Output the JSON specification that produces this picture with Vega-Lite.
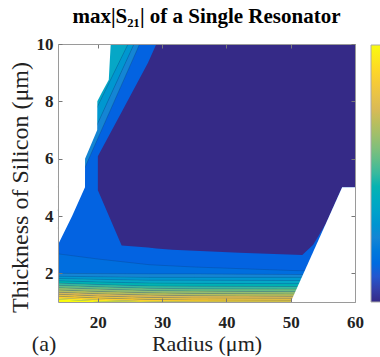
{
  "$schema": "https://vega.github.io/schema/vega-lite/v6.json",
  "width": 297,
  "height": 258,
  "autosize": "none",
  "padding": {"left": 58, "top": 44, "right": 25, "bottom": 55},
  "background": "white",
  "config": {"view": {"stroke": null}, "font": "Liberation Serif"},
  "title": {"text": "max|S₂₁| of a Single Resonator", "font": "Liberation Serif", "fontSize": 21, "fontWeight": "bold", "color": "black", "anchor": "middle", "frame": "group", "baseline": "alphabetic", "offset": 17, "dy": 26},
  "datasets": {
    "shapes": [
      {"part": "base", "level": 0.125, "r": 13.8, "lo": 1, "hi": 10},
      {"part": "base", "level": 0.125, "r": 60, "lo": 1, "hi": 10},

      {"part": "band", "level": 0.16, "r": 13.8, "lo": 2.00, "hi": 2.68},
      {"part": "band", "level": 0.16, "r": 20, "lo": 1.99, "hi": 2.50},
      {"part": "band", "level": 0.16, "r": 28, "lo": 1.98, "hi": 2.30},
      {"part": "band", "level": 0.16, "r": 35, "lo": 1.98, "hi": 2.22},
      {"part": "band", "level": 0.16, "r": 50, "lo": 1.96, "hi": 2.10},
      {"part": "band", "level": 0.16, "r": 60, "lo": 1.95, "hi": 2.05},

      {"part": "band", "level": 0.25, "r": 13.8, "lo": 1.90, "hi": 2.00},
      {"part": "band", "level": 0.25, "r": 20, "lo": 1.88, "hi": 1.99},
      {"part": "band", "level": 0.25, "r": 28, "lo": 1.86, "hi": 1.98},
      {"part": "band", "level": 0.25, "r": 35, "lo": 1.86, "hi": 1.98},
      {"part": "band", "level": 0.25, "r": 50, "lo": 1.86, "hi": 1.96},
      {"part": "band", "level": 0.25, "r": 60, "lo": 1.86, "hi": 1.95},

      {"part": "band", "level": 0.3125, "r": 13.8, "lo": 1.82, "hi": 1.90},
      {"part": "band", "level": 0.3125, "r": 20, "lo": 1.79, "hi": 1.88},
      {"part": "band", "level": 0.3125, "r": 28, "lo": 1.76, "hi": 1.86},
      {"part": "band", "level": 0.3125, "r": 35, "lo": 1.76, "hi": 1.86},
      {"part": "band", "level": 0.3125, "r": 50, "lo": 1.75, "hi": 1.86},
      {"part": "band", "level": 0.3125, "r": 60, "lo": 1.75, "hi": 1.86},

      {"part": "band", "level": 0.375, "r": 13.8, "lo": 1.74, "hi": 1.82},
      {"part": "band", "level": 0.375, "r": 20, "lo": 1.70, "hi": 1.79},
      {"part": "band", "level": 0.375, "r": 28, "lo": 1.66, "hi": 1.76},
      {"part": "band", "level": 0.375, "r": 35, "lo": 1.65, "hi": 1.76},
      {"part": "band", "level": 0.375, "r": 50, "lo": 1.64, "hi": 1.75},
      {"part": "band", "level": 0.375, "r": 60, "lo": 1.64, "hi": 1.75},

      {"part": "band", "level": 0.4375, "r": 13.8, "lo": 1.66, "hi": 1.74},
      {"part": "band", "level": 0.4375, "r": 20, "lo": 1.61, "hi": 1.70},
      {"part": "band", "level": 0.4375, "r": 28, "lo": 1.56, "hi": 1.66},
      {"part": "band", "level": 0.4375, "r": 35, "lo": 1.55, "hi": 1.65},
      {"part": "band", "level": 0.4375, "r": 50, "lo": 1.54, "hi": 1.64},
      {"part": "band", "level": 0.4375, "r": 60, "lo": 1.54, "hi": 1.64},

      {"part": "band", "level": 0.5, "r": 13.8, "lo": 1.58, "hi": 1.66},
      {"part": "band", "level": 0.5, "r": 20, "lo": 1.53, "hi": 1.61},
      {"part": "band", "level": 0.5, "r": 28, "lo": 1.48, "hi": 1.56},
      {"part": "band", "level": 0.5, "r": 35, "lo": 1.46, "hi": 1.55},
      {"part": "band", "level": 0.5, "r": 50, "lo": 1.45, "hi": 1.54},
      {"part": "band", "level": 0.5, "r": 60, "lo": 1.45, "hi": 1.54},

      {"part": "band", "level": 0.5625, "r": 13.8, "lo": 1.50, "hi": 1.58},
      {"part": "band", "level": 0.5625, "r": 20, "lo": 1.45, "hi": 1.53},
      {"part": "band", "level": 0.5625, "r": 28, "lo": 1.40, "hi": 1.48},
      {"part": "band", "level": 0.5625, "r": 35, "lo": 1.38, "hi": 1.46},
      {"part": "band", "level": 0.5625, "r": 50, "lo": 1.36, "hi": 1.45},
      {"part": "band", "level": 0.5625, "r": 60, "lo": 1.36, "hi": 1.45},

      {"part": "band", "level": 0.625, "r": 13.8, "lo": 1.42, "hi": 1.50},
      {"part": "band", "level": 0.625, "r": 20, "lo": 1.37, "hi": 1.45},
      {"part": "band", "level": 0.625, "r": 28, "lo": 1.32, "hi": 1.40},
      {"part": "band", "level": 0.625, "r": 35, "lo": 1.30, "hi": 1.38},
      {"part": "band", "level": 0.625, "r": 50, "lo": 1.28, "hi": 1.36},
      {"part": "band", "level": 0.625, "r": 60, "lo": 1.28, "hi": 1.36},

      {"part": "band", "level": 0.6875, "r": 13.8, "lo": 1.34, "hi": 1.42},
      {"part": "band", "level": 0.6875, "r": 20, "lo": 1.29, "hi": 1.37},
      {"part": "band", "level": 0.6875, "r": 28, "lo": 1.24, "hi": 1.32},
      {"part": "band", "level": 0.6875, "r": 35, "lo": 1.22, "hi": 1.30},
      {"part": "band", "level": 0.6875, "r": 50, "lo": 1.20, "hi": 1.28},
      {"part": "band", "level": 0.6875, "r": 60, "lo": 1.20, "hi": 1.28},

      {"part": "band", "level": 0.75, "r": 13.8, "lo": 1.27, "hi": 1.34},
      {"part": "band", "level": 0.75, "r": 20, "lo": 1.21, "hi": 1.29},
      {"part": "band", "level": 0.75, "r": 28, "lo": 1.16, "hi": 1.24},
      {"part": "band", "level": 0.75, "r": 35, "lo": 1.14, "hi": 1.22},
      {"part": "band", "level": 0.75, "r": 50, "lo": 1.13, "hi": 1.20},
      {"part": "band", "level": 0.75, "r": 60, "lo": 1.13, "hi": 1.20},

      {"part": "band", "level": 0.8125, "r": 13.8, "lo": 1.20, "hi": 1.27},
      {"part": "band", "level": 0.8125, "r": 20, "lo": 1.14, "hi": 1.21},
      {"part": "band", "level": 0.8125, "r": 28, "lo": 1.09, "hi": 1.16},
      {"part": "band", "level": 0.8125, "r": 35, "lo": 1.07, "hi": 1.14},
      {"part": "band", "level": 0.8125, "r": 50, "lo": 1.06, "hi": 1.13},
      {"part": "band", "level": 0.8125, "r": 60, "lo": 1.06, "hi": 1.13},

      {"part": "band", "level": 0.875, "r": 13.8, "lo": 1.14, "hi": 1.20},
      {"part": "band", "level": 0.875, "r": 20, "lo": 1.08, "hi": 1.14},
      {"part": "band", "level": 0.875, "r": 28, "lo": 1.03, "hi": 1.09},
      {"part": "band", "level": 0.875, "r": 35, "lo": 1.01, "hi": 1.07},
      {"part": "band", "level": 0.875, "r": 50, "lo": 1.01, "hi": 1.06},
      {"part": "band", "level": 0.875, "r": 60, "lo": 1.01, "hi": 1.06},

      {"part": "band", "level": 0.9375, "r": 13.8, "lo": 1.09, "hi": 1.14},
      {"part": "band", "level": 0.9375, "r": 20, "lo": 1.03, "hi": 1.08},
      {"part": "band", "level": 0.9375, "r": 28, "lo": 1.00, "hi": 1.03},
      {"part": "band", "level": 0.9375, "r": 35, "lo": 1.00, "hi": 1.01},
      {"part": "band", "level": 0.9375, "r": 50, "lo": 1.00, "hi": 1.01},
      {"part": "band", "level": 0.9375, "r": 60, "lo": 1.00, "hi": 1.01},

      {"part": "band", "level": 1.0, "r": 13.8, "lo": 1, "hi": 1.09},
      {"part": "band", "level": 1.0, "r": 20, "lo": 1, "hi": 1.03},
      {"part": "band", "level": 1.0, "r": 28, "lo": 1, "hi": 1.00},
      {"part": "band", "level": 1.0, "r": 35, "lo": 1, "hi": 1.00},
      {"part": "band", "level": 1.0, "r": 50, "lo": 1, "hi": 1.00},
      {"part": "band", "level": 1.0, "r": 60, "lo": 1, "hi": 1.00},

      {"part": "dark", "level": 0, "r": 20, "lo": 4.9, "hi": 6.08},
      {"part": "dark", "level": 0, "r": 23.7, "lo": 2.97, "hi": 7.63},
      {"part": "dark", "level": 0, "r": 27.8, "lo": 2.90, "hi": 9.35},
      {"part": "dark", "level": 0, "r": 29.1, "lo": 2.87, "hi": 10},
      {"part": "dark", "level": 0, "r": 31.6, "lo": 2.82, "hi": 10},
      {"part": "dark", "level": 0, "r": 42, "lo": 2.72, "hi": 10},
      {"part": "dark", "level": 0, "r": 51.8, "lo": 2.64, "hi": 10},
      {"part": "dark", "level": 0, "r": 53.5, "lo": 3.0, "hi": 10},
      {"part": "dark", "level": 0, "r": 55.5, "lo": 3.75, "hi": 10},
      {"part": "dark", "level": 0, "r": 58, "lo": 5, "hi": 10},
      {"part": "dark", "level": 0, "r": 60, "lo": 5, "hi": 10},

      {"part": "strip", "level": 0.25, "r": 13.8, "lo": 3.572, "hi": 4.204},
      {"part": "strip", "level": 0.25, "r": 25.63, "lo": 9.558, "hi": 10},
      {"part": "strip", "level": 0.25, "r": 26.5, "lo": 10, "hi": 10},
      {"part": "strip", "level": 0.3125, "r": 13.8, "lo": 4.204, "hi": 5.006},
      {"part": "strip", "level": 0.3125, "r": 24.7, "lo": 9.545, "hi": 10},
      {"part": "strip", "level": 0.3125, "r": 25.63, "lo": 10, "hi": 10},
      {"part": "strip", "level": 0.375, "r": 13.8, "lo": 5.006, "hi": 10},
      {"part": "strip", "level": 0.375, "r": 24.7, "lo": 10, "hi": 10},

      {"part": "mask", "id": "ul", "r": 13.8, "lo": 3, "hi": 10},
      {"part": "mask", "id": "ul", "r": 16, "lo": 4, "hi": 10},
      {"part": "mask", "id": "ul", "r": 18, "lo": 5, "hi": 10},
      {"part": "mask", "id": "ul", "r": 18.01, "lo": 6, "hi": 10},
      {"part": "mask", "id": "ul", "r": 19.9, "lo": 7, "hi": 10},
      {"part": "mask", "id": "ul", "r": 19.92, "lo": 8, "hi": 10},
      {"part": "mask", "id": "ul", "r": 20.6, "lo": 8.3, "hi": 10},
      {"part": "mask", "id": "ul", "r": 21.7, "lo": 8.75, "hi": 10},
      {"part": "mask", "id": "ul", "r": 22.0, "lo": 10, "hi": 10},
      {"part": "mask", "id": "lr", "r": 50, "lo": 1, "hi": 1},
      {"part": "mask", "id": "lr", "r": 58, "lo": 1, "hi": 5},
      {"part": "mask", "id": "lr", "r": 60, "lo": 1, "hi": 5}
    ],
    "label": [{"r": 11.63, "t": -0.71, "txt": "(a)"}]
  },
  "layer": [
    {
      "data": {"name": "shapes"},
      "transform": [{"filter": "datum.part === 'base'"}],
      "mark": {"type": "area"},
      "encoding": {
        "x": {"field": "r", "type": "quantitative", "scale": {"domain": [13.8, 60], "nice": false, "zero": false},
          "axis": {"orient": "bottom", "values": [20, 30, 40, 50, 60], "tickSize": -4, "tickColor": "#777", "domainColor": "#9a9a9a", "labelFont": "Liberation Serif", "labelFontSize": 17, "labelFontWeight": "bold", "labelColor": "#222", "labelPadding": 16, "labelFlush": false, "labelOverlap": false, "grid": false, "zindex": 1, "title": "Radius (μm)", "titleFont": "Liberation Serif", "titleFontSize": 22, "titleFontWeight": "normal", "titleColor": "#222", "titlePadding": 3}},
        "y": {"field": "hi", "type": "quantitative", "stack": null, "scale": {"domain": [1, 10], "nice": false, "zero": false},
          "axis": {"orient": "left", "values": [2, 4, 6, 8, 10], "tickSize": -4, "tickColor": "#777", "domainColor": "#9a9a9a", "labelFont": "Liberation Serif", "labelFontSize": 17, "labelFontWeight": "bold", "labelColor": "#222", "labelPadding": 9, "labelFlush": false, "labelOverlap": false, "grid": false, "zindex": 1, "title": "Thickness of Silicon (μm)", "titleFont": "Liberation Serif", "titleFontSize": 24, "titleFontWeight": "normal", "titleColor": "#222", "titlePadding": 4, "titleY": 143}},
        "y2": {"field": "lo"},
        "color": {"field": "level", "type": "quantitative",
          "scale": {"domain": [0, 1], "range": ["#352A87", "#0363E1", "#1485D4", "#06A7C6", "#38B99E", "#92BF73", "#D9BA56", "#FCCE2E", "#F9FB0E"]},
          "legend": {"orient": "none", "legendX": 313, "legendY": 1, "direction": "vertical", "gradientLength": 257, "gradientThickness": 20, "gradientStrokeColor": "#aaaaaa", "gradientStrokeWidth": 1, "title": null, "labelOpacity": 0, "labelExpr": "''"}}
      }
    },
    {
      "data": {"name": "shapes"},
      "transform": [{"filter": "datum.part === 'band'"}],
      "mark": {"type": "area"},
      "encoding": {
        "x": {"field": "r", "type": "quantitative", "axis": null},
        "y": {"field": "hi", "type": "quantitative", "stack": null, "axis": null},
        "y2": {"field": "lo"},
        "color": {"field": "level", "type": "quantitative"},
        "detail": {"field": "level", "type": "nominal"}
      }
    },
    {
      "data": {"name": "shapes"},
      "transform": [{"filter": "datum.part === 'dark'"}],
      "mark": {"type": "area"},
      "encoding": {
        "x": {"field": "r", "type": "quantitative", "axis": null},
        "y": {"field": "hi", "type": "quantitative", "stack": null, "axis": null},
        "y2": {"field": "lo"},
        "color": {"field": "level", "type": "quantitative"}
      }
    },
    {
      "data": {"name": "shapes"},
      "transform": [{"filter": "datum.part === 'strip'"}],
      "mark": {"type": "area"},
      "encoding": {
        "x": {"field": "r", "type": "quantitative", "axis": null},
        "y": {"field": "hi", "type": "quantitative", "stack": null, "axis": null},
        "y2": {"field": "lo"},
        "color": {"field": "level", "type": "quantitative"},
        "detail": {"field": "level", "type": "nominal"}
      }
    },
    {
      "data": {"name": "shapes"},
      "transform": [{"filter": "datum.part === 'band' && datum.level <= 0.875"}],
      "mark": {"type": "line", "color": "#111", "strokeWidth": 0.5, "opacity": 0.3},
      "encoding": {
        "x": {"field": "r", "type": "quantitative", "axis": null},
        "y": {"field": "hi", "type": "quantitative", "axis": null},
        "detail": {"field": "level", "type": "nominal"}
      }
    },
    {
      "data": {"name": "shapes"},
      "transform": [{"filter": "datum.part === 'strip'"}],
      "mark": {"type": "line", "color": "#111", "strokeWidth": 0.5, "opacity": 0.35},
      "encoding": {
        "x": {"field": "r", "type": "quantitative", "axis": null},
        "y": {"field": "lo", "type": "quantitative", "axis": null},
        "detail": {"field": "level", "type": "nominal"}
      }
    },
    {
      "data": {"name": "shapes"},
      "transform": [{"filter": "datum.part === 'mask'"}],
      "mark": {"type": "area", "color": "white"},
      "encoding": {
        "x": {"field": "r", "type": "quantitative",
          "axis": {"orient": "top", "values": [20, 30, 40, 50, 60], "tickSize": -4, "tickColor": "#777", "domainColor": "#9a9a9a", "labels": false, "grid": false, "zindex": 1, "title": null}},
        "y": {"field": "hi", "type": "quantitative", "stack": null,
          "axis": {"orient": "right", "values": [2, 4, 6, 8, 10], "tickSize": -4, "tickColor": "#777", "domainColor": "#9a9a9a", "labels": false, "grid": false, "zindex": 1, "title": null}},
        "y2": {"field": "lo"},
        "detail": {"field": "id", "type": "nominal"}
      }
    },
    {
      "data": {"name": "label"},
      "mark": {"type": "text", "font": "Liberation Serif", "fontSize": 22, "align": "center", "baseline": "alphabetic", "color": "#222"},
      "encoding": {
        "x": {"field": "r", "type": "quantitative", "axis": null},
        "y": {"field": "t", "type": "quantitative", "axis": null},
        "text": {"field": "txt"}
      }
    }
  ],
  "resolve": {"axis": {"x": "independent", "y": "independent"}}
}
